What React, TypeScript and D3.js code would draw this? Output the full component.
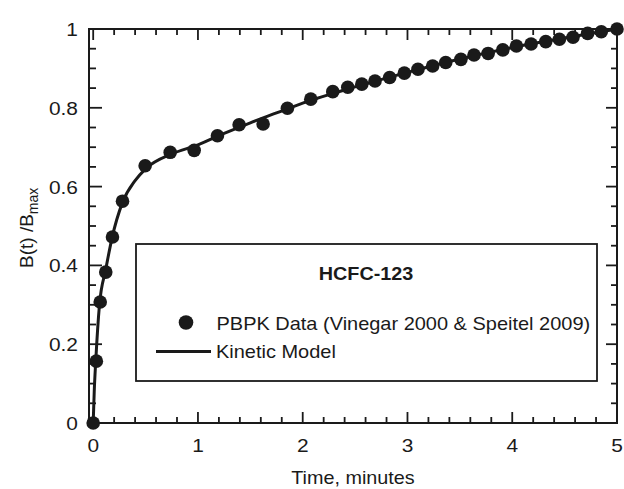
import React from "react";
import * as d3 from "d3";

const dataTime = [0, 0.03, 0.067, 0.12, 0.184, 0.28, 0.496, 0.735, 0.964, 1.186, 1.393, 1.622, 1.854, 2.077, 2.287, 2.43, 2.564, 2.69, 2.83, 2.97, 3.1, 3.24, 3.365, 3.51, 3.635, 3.77, 3.91, 4.04, 4.18, 4.32, 4.45, 4.58, 4.72, 4.85, 5.0];
const dataValue = [0, 0.157, 0.307, 0.383, 0.472, 0.563, 0.653, 0.687, 0.692, 0.729, 0.757, 0.759, 0.799, 0.822, 0.841, 0.852, 0.86, 0.868, 0.877, 0.888, 0.898, 0.906, 0.915, 0.923, 0.934, 0.938, 0.947, 0.957, 0.962, 0.968, 0.974, 0.979, 0.989, 0.993, 1.0];

const modelTime = [0, 0.01, 0.025, 0.06, 0.12, 0.18, 0.28, 0.4, 0.5, 0.75, 1.0, 1.25, 1.5, 1.75, 2.0, 2.5, 3.0, 3.5, 4.0, 4.5, 5.0];
const modelValue = [0, 0.08, 0.16, 0.3, 0.39, 0.47, 0.56, 0.615, 0.645, 0.683, 0.706, 0.735, 0.762, 0.787, 0.812, 0.853, 0.89, 0.924, 0.953, 0.977, 1.0];

const xTicks = [0, 1, 2, 3, 4, 5];
const xMinorStep = 0.2;
const yTicks = [0, 0.2, 0.4, 0.6, 0.8, 1];
const yTickLabels = ["0", "0.2", "0.4", "0.6", "0.8", "1"];
const yMinorStep = 0.05;

const legendTitle = "HCFC-123";
const seriesNames = ["PBPK Data (Vinegar 2000 & Speitel 2009)", "Kinetic Model"];

const W = 624;
const H = 489;
const left = 89, right = 617, top = 29, bottom = 423;
const FONT = "'Liberation Sans', Arial, sans-serif";

function SText({ x, y, anchor = "start", size = 18, weight = "normal", sx = 1.1, children }: any) {
  return (
    <g transform={`translate(${x},${y}) scale(${sx},1)`}>
      <text x={0} y={0} textAnchor={anchor} fontSize={size} fontWeight={weight} fontFamily={FONT} fill="#1a1a1a">
        {children}
      </text>
    </g>
  );
}

export default function App() {
  const x = d3.scaleLinear().domain([-0.04, 5]).range([left, right]);
  const y = d3.scaleLinear().domain([0, 1]).range([bottom, top]);

  const xMinor = d3.range(0, 5 + 1e-9, xMinorStep).filter((v) => Math.abs(v - Math.round(v)) > 1e-6);
  const yMinor = d3.range(0, 1 + 1e-9, yMinorStep).filter((v) => Math.abs(v * 5 - Math.round(v * 5)) > 1e-6);

  const line = d3
    .line<number>()
    .x((_, i) => x(modelTime[i]))
    .y((d) => y(d))
    .curve(d3.curveMonotoneX);

  const majorLen = 11;
  const minorLen = 6;
  const stroke = "#1a1a1a";

  return (
    <svg width={W} height={H} style={{ position: "absolute", left: 0, top: 0, background: "#fff" }}>
      <rect x={0} y={0} width={W} height={H} fill="#fff" />
      {/* ticks */}
      <g stroke={stroke} strokeWidth={1.8}>
        {xTicks.map((t) => (
          <g key={"xt" + t}>
            <line x1={x(t)} x2={x(t)} y1={bottom} y2={bottom - majorLen} />
            <line x1={x(t)} x2={x(t)} y1={top} y2={top + majorLen} />
          </g>
        ))}
        {xMinor.map((t) => (
          <g key={"xm" + t}>
            <line x1={x(t)} x2={x(t)} y1={bottom} y2={bottom - minorLen} />
            <line x1={x(t)} x2={x(t)} y1={top} y2={top + minorLen} />
          </g>
        ))}
        {yTicks.map((t) => (
          <g key={"yt" + t}>
            <line x1={left} x2={left + majorLen + 2} y1={y(t)} y2={y(t)} />
            <line x1={right} x2={right - majorLen} y1={y(t)} y2={y(t)} />
          </g>
        ))}
        {yMinor.map((t) => (
          <g key={"ym" + t}>
            <line x1={left} x2={left + minorLen + 1} y1={y(t)} y2={y(t)} />
            <line x1={right} x2={right - minorLen} y1={y(t)} y2={y(t)} />
          </g>
        ))}
      </g>
      {/* frame */}
      <rect x={left} y={top} width={right - left} height={bottom - top} fill="none" stroke={stroke} strokeWidth={2} />

      {/* model line */}
      <path d={line(modelValue) || ""} fill="none" stroke={stroke} strokeWidth={3} />
      {/* data points */}
      {dataValue.map((v, i) => (
        <circle key={"p" + i} cx={x(dataTime[i])} cy={y(v)} r={6.8} fill={stroke} />
      ))}

      {/* tick labels */}
      {xTicks.map((t) => (
        <SText key={"xl" + t} x={x(t)} y={452} anchor="middle" size={19}>
          {String(t)}
        </SText>
      ))}
      {yTicks.map((t, i) => (
        <SText key={"yl" + t} x={78} y={y(t) + 7} anchor="end" size={19}>
          {yTickLabels[i]}
        </SText>
      ))}

      {/* axis titles */}
      <SText x={353} y={484} anchor="middle" size={18}>
        Time, minutes
      </SText>
      <g transform={`translate(33,268) rotate(-90)`}>
        <text x={0} y={0} fontSize={19} fontFamily={FONT} fill="#1a1a1a">
          B(t) /B
          <tspan fontSize={14} dy={5}>max</tspan>
        </text>
      </g>

      {/* legend */}
      <rect x={136} y={244} width={461} height={137} fill="#fff" stroke={stroke} strokeWidth={1.8} />
      <SText x={366} y={280} anchor="middle" size={18} weight="bold">
        {legendTitle}
      </SText>
      <circle cx={186} cy={322.5} r={7.3} fill={stroke} />
      <SText x={216.5} y={329.5} size={18} sx={1.11}>
        {seriesNames[0]}
      </SText>
      <line x1={156} x2={211} y1={351.5} y2={351.5} stroke={stroke} strokeWidth={3} />
      <SText x={216} y={358} size={18} sx={1.11}>
        {seriesNames[1]}
      </SText>
    </svg>
  );
}
